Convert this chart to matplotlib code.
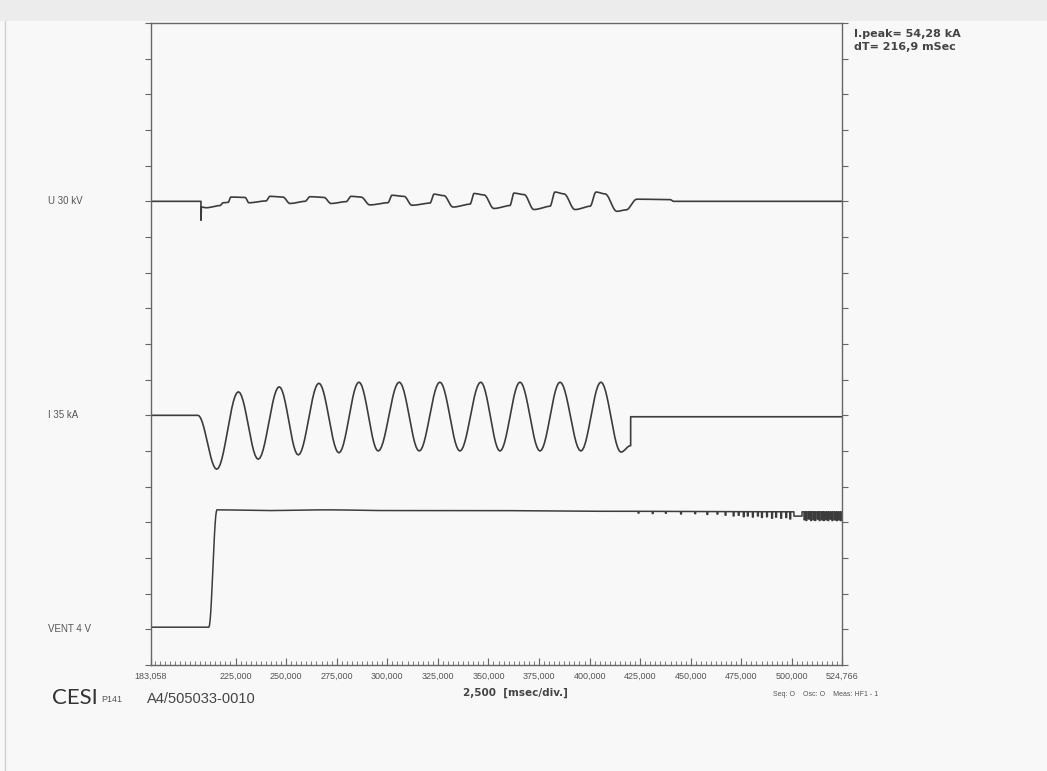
import numpy as np
import matplotlib
matplotlib.use("Agg")
import matplotlib.pyplot as plt
from matplotlib.patches import Rectangle
from matplotlib.lines import Line2D

# time axis (msec)
t_start = 183.058
t_end = 524.766
tick_vals = [225, 250, 275, 300, 325, 350, 375, 400, 425, 450, 475, 500]
tick_labels = ["183,058"] + ["%d,000" % v for v in tick_vals] + ["524,766"]

# channel U 30 kV  (key points: time, level in divisions)
u_t = [183.06, 207.9, 207.9, 208.1, 210.4, 217.3, 218.8, 221.3, 222.7, 229.7, 231.6, 240.0,
       242.0, 248.4, 251.9, 259.3, 261.8, 268.7, 272.2, 279.6, 282.1, 287.0, 291.4, 300.3,
       302.3, 308.3, 312.2, 321.1, 323.1, 328.0, 332.5, 340.9, 342.9, 347.8, 352.7, 360.6,
       362.6, 367.6, 372.5, 380.4, 382.9, 387.3, 392.8, 400.2, 403.2, 407.6, 413.5, 418.0,
       423.4, 439.7, 441.6, 524.77]
u_v = [13.0, 13.0, 12.47, 12.84, 12.82, 12.88, 12.96, 12.97, 13.12, 13.11, 12.96, 13.01,
       13.14, 13.12, 12.94, 13.0, 13.13, 13.11, 12.94, 12.99, 13.14, 13.12, 12.90, 12.96,
       13.17, 13.14, 12.89, 12.95, 13.20, 13.16, 12.84, 12.92, 13.22, 13.18, 12.80, 12.88,
       13.23, 13.19, 12.77, 12.86, 13.26, 13.21, 12.77, 12.86, 13.26, 13.21, 12.72, 12.76,
       13.06, 13.05, 13.0, 13.0]

# channel I 35 kA  (extremes of the current)
i_t = [183.06, 206.4, 215.7, 226.4, 236.2, 246.6, 256.0, 266.2, 276.1, 286.0, 295.5, 305.9,
       315.8, 326.0, 335.9, 346.2, 355.7, 365.6, 375.5, 385.4, 395.7, 405.6, 415.5, 420.3,
       420.3, 524.77]
i_v = [7.0, 7.0, 5.49, 7.66, 5.77, 7.80, 5.89, 7.90, 5.95, 7.93, 6.0, 7.93,
       6.0, 7.93, 6.0, 7.93, 6.0, 7.93, 6.0, 7.93, 6.0, 7.93, 5.97, 6.15,
       6.96, 6.96]

# channel VENT 4 V
v_t = [183.06, 211.8, 215.8, 240.0, 270.0, 300.0, 350.0, 400.0, 420.0]
v_v = [1.06, 1.06, 4.35, 4.33, 4.35, 4.33, 4.33, 4.31, 4.31]
v_tail_t = [420.0, 470.0, 524.77]
v_tail_v = [4.31, 4.30, 4.29]
# dropouts on the VENT trace near the end
spk_t = [424, 431, 437.5, 445, 452, 458, 463, 467, 471, 473.5, 476, 478, 480.5, 483, 485,
         487.5, 490, 492, 494.5, 497, 499, 501, 506, 507, 508.2, 509.3, 510.5, 511.4, 512.6,
         513.5, 514.7, 515.6, 516.8, 517.8, 518.9, 519.8, 521, 522, 523, 524]
spk_d = [0.05, 0.06, 0.05, 0.07, 0.06, 0.08, 0.07, 0.1, 0.12, 0.1, 0.14, 0.12, 0.15, 0.12, 0.16,
         0.14, 0.18, 0.15, 0.18, 0.16, 0.2, 0.12, 0.22, 0.24, 0.2, 0.24, 0.22, 0.24, 0.2,
         0.24, 0.22, 0.24, 0.22, 0.24, 0.2, 0.24, 0.22, 0.24, 0.22, 0.24]
spk_w = [0.4] * 21 + [4.0] + [0.4] * 18

channel_names = ["U 30 kV", "I 35 kA", "VENT 4 V"]
channel_levels = [13.0, 7.0, 1.0]

W, H = 1047, 771


def eased(t, v, n=14):
    # join key points with half-cosine steps
    xs, ys = [t[0]], [v[0]]
    for i in range(len(t) - 1):
        if t[i + 1] == t[i]:
            xs.append(t[i + 1])
            ys.append(v[i + 1])
            continue
        s = np.linspace(0, 1, n)[1:]
        w = (1 - np.cos(np.pi * s)) / 2
        xs.extend(t[i] + (t[i + 1] - t[i]) * s)
        ys.extend(v[i] + (v[i + 1] - v[i]) * w)
    return xs, ys


def px(x, y):
    return x / W, 1 - y / H


fig = plt.figure(figsize=(W / 100, H / 100), dpi=100, facecolor="#f8f8f8")
fig.patches.append(Rectangle((0, 1 - 21 / H), 1, 21 / H, transform=fig.transFigure,
                             facecolor="#ececec", edgecolor="none", zorder=0))
fig.lines.append(Line2D([5 / W, 5 / W], [0, 1 - 21 / H], transform=fig.transFigure,
                        color="#cfcfcf", lw=1))

ax = fig.add_axes([150.7 / W, 1 - 665 / H, (842 - 150.7) / W, 642 / H])
ax.set_facecolor("#f8f8f8")
ax.set_xlim(t_start, t_end)
ax.set_ylim(0, 18)

trace = dict(color="#3c3c3c", lw=1.2)
x, y = eased(u_t, u_v)
ax.plot(x, y, **trace)
x, y = eased(i_t, i_v)
ax.plot(x, y, **trace)
x, y = eased(v_t, v_v)

# VENT tail with the dropouts
tx, ty = [v_tail_t[0]], [v_tail_v[0]]
for ts, d, w in zip(spk_t, spk_d, spk_w):
    b = np.interp(ts, v_tail_t, v_tail_v)
    tx += [ts, ts, min(ts + w, t_end), min(ts + w, t_end)]
    ty += [b, b - d, b - d, b]
tx.append(v_tail_t[-1])
ty.append(v_tail_v[-1])
ax.plot(list(x) + tx, list(y) + ty, color="#3c3c3c", lw=1.1)

for sp in ax.spines.values():
    sp.set_color("#666666")
    sp.set_linewidth(1.0)

ax.set_yticks(np.arange(0, 19))
ax.tick_params(axis="y", which="major", left=True, right=True, direction="out",
               length=4, width=0.8, color="#666666", labelleft=False)

ax.set_xticks([t_start] + tick_vals + [t_end])
ax.set_xticklabels(tick_labels, fontsize=6.5, color="#555555", family="Liberation Sans")
ax.set_xticks(np.arange(185, 524, 2.5), minor=True)
ax.tick_params(axis="x", which="major", direction="in", length=5, width=0.8,
               color="#666666", pad=5)
ax.tick_params(axis="x", which="minor", direction="in", length=3, width=0.6,
               color="#666666")

for name, lev in zip(channel_names, channel_levels):
    yy = 665 - lev * 642 / 18
    fig.text(*px(48, yy), name, ha="left", va="center", fontsize=7,
             color="#555555", family="Liberation Sans")

fig.text(*px(854, 34), "I.peak= 54,28 kA", ha="left", va="center", fontsize=8,
         fontweight="bold", color="#444444")
fig.text(*px(854, 47), "dT= 216,9 mSec", ha="left", va="center", fontsize=8,
         fontweight="bold", color="#444444")
fig.text(*px(515, 693), "2,500  [msec/div.]", ha="center", va="center", fontsize=7.5,
         fontweight="bold", color="#444444")
fig.text(*px(52, 698), "CESI", ha="left", va="center", fontsize=16, color="#333333",
         family="Lato")
fig.text(*px(101, 700), "P141", ha="left", va="center", fontsize=6.5, color="#555555",
         family="Liberation Sans")
fig.text(*px(147, 699), "A4/505033-0010", ha="left", va="center", fontsize=10.5,
         color="#444444", family="Liberation Sans")
fig.text(*px(773, 695), "Seq: O    Osc: O    Meas: HF1 - 1", ha="left", va="center",
         fontsize=5, color="#555555", family="Liberation Sans")

fig.savefig("out.png", dpi=100, facecolor=fig.get_facecolor())
